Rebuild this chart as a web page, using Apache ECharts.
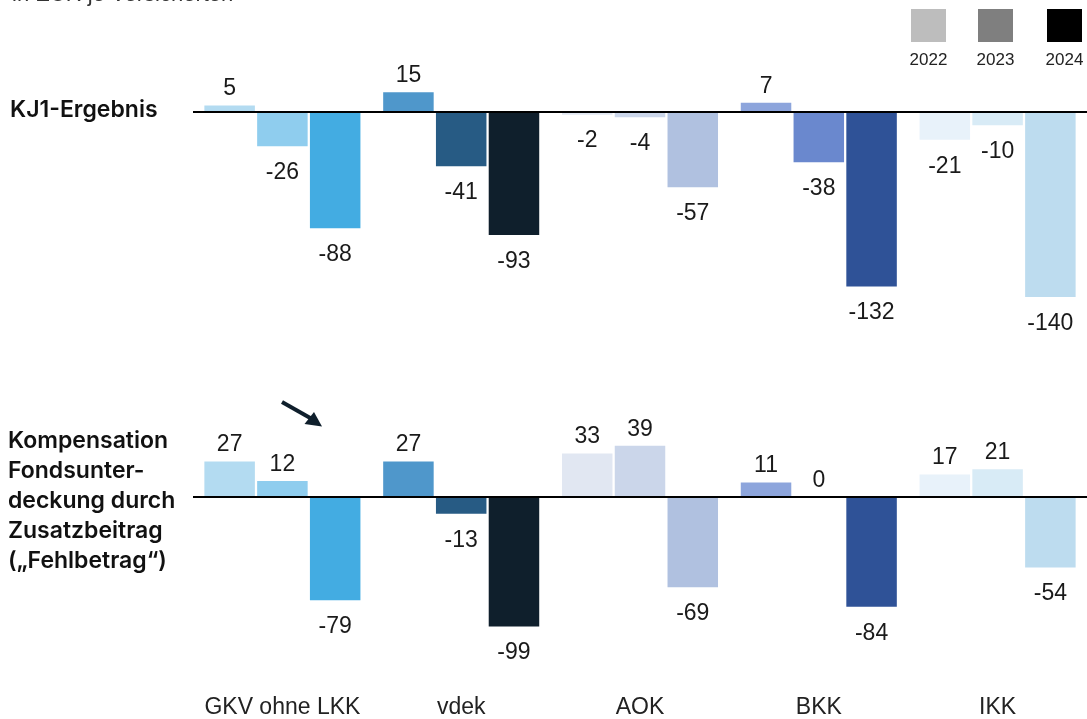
<!DOCTYPE html>
<html>
<head>
<meta charset="utf-8">
<script src="https://cdn.jsdelivr.net/npm/echarts@6/dist/echarts.min.js"></script>
<style>
  html, body { margin: 0; padding: 0; background: #fff; }
  #chart { width: 1087px; height: 719px; }
</style>
</head>
<body>
<div id="chart"></div>
<script>
const categories = ['GKV ohne LKK', 'vdek', 'AOK', 'BKK', 'IKK'];
const years = ['2022', '2023', '2024'];
const legendColors = ['#bdbdbd', '#7f7f7f', '#000000'];

// KJ1-Ergebnis, in EUR je Versicherten
const kj1_2022 = [5, 15, -2, 7, -21];
const kj1_2023 = [-26, -41, -4, -38, -10];
const kj1_2024 = [-88, -93, -57, -132, -140];

// Kompensation Fondsunterdeckung durch Zusatzbeitrag ("Fehlbetrag")
const fehl_2022 = [27, 27, 33, 11, 17];
const fehl_2023 = [12, -13, 39, 0, 21];
const fehl_2024 = [-79, -99, -69, -84, -54];

// Farbe je Kassenart und Jahr (2022, 2023, 2024)
const groupColors = [
  ['#b3dbf1', '#8fcdee', '#43ace2'],
  ['#4f97cb', '#275b84', '#0f1f2c'],
  ['#e1e7f2', '#cbd6ea', '#b0c1e0'],
  ['#8da5dc', '#6a88ce', '#2f5297'],
  ['#e8f2fa', '#d8ebf6', '#bddcef']
];

const labelFont = {
  fontFamily: 'Liberation Sans',
  fontSize: 23,
  color: '#1a1a1a'
};

function toData(values, yearIdx) {
  return values.map(function (v, i) {
    return {
      value: v,
      itemStyle: { color: groupColors[i][yearIdx] },
      label: {
        position: v >= 0 ? 'top' : 'bottom',
        distance: v >= 0 ? 5 : 15
      }
    };
  });
}

function makeSeries(values, yearIdx, axisIdx) {
  const s = {
    name: years[yearIdx],
    type: 'bar',
    xAxisIndex: axisIdx,
    yAxisIndex: axisIdx,
    barWidth: 50.5,
    barGap: '4.5%',
    data: toData(values, yearIdx),
    label: Object.assign({ show: true }, labelFont),
    emphasis: { disabled: true }
  };
  if (yearIdx === 0) {
    s.markLine = {
      silent: true,
      symbol: 'none',
      label: { show: false },
      lineStyle: { color: '#000', width: 2, type: 'solid' },
      data: [{ yAxis: 0 }]
    };
  }
  return s;
}

const k = 1.322; // px per EUR
const chart = echarts.init(document.getElementById('chart'));

const legendGraphics = [];
const legendX = [911, 978, 1047];
years.forEach(function (y, i) {
  legendGraphics.push({
    type: 'rect',
    shape: { x: legendX[i], y: 9, width: 35, height: 33 },
    style: { fill: legendColors[i] }
  });
  legendGraphics.push({
    type: 'text',
    x: legendX[i] + 17.5,
    y: 60,
    style: {
      text: y, fontFamily: 'Liberation Sans', fontSize: 17, fill: '#222',
      align: 'center', verticalAlign: 'middle'
    }
  });
});

const option = {
  animation: false,
  backgroundColor: '#fff',
  grid: [
    { left: 193, width: 897, top: 112 - 40 * k, height: 200 * k },
    { left: 193, width: 897, top: 497.3 - 40 * k, height: 160 * k }
  ],
  xAxis: [
    {
      type: 'category', gridIndex: 0, data: categories,
      axisLine: { show: false }, axisTick: { show: false }, axisLabel: { show: false }
    },
    {
      type: 'category', gridIndex: 1, data: categories,
      axisLine: { show: false }, axisTick: { show: false },
      axisLabel: {
        interval: 0, margin: 42, fontFamily: 'Liberation Sans', fontSize: 23, color: '#222'
      }
    }
  ],
  yAxis: [
    { type: 'value', gridIndex: 0, min: -160, max: 40, show: false },
    { type: 'value', gridIndex: 1, min: -120, max: 40, show: false }
  ],
  series: [
    makeSeries(kj1_2022, 0, 0),
    makeSeries(kj1_2023, 1, 0),
    makeSeries(kj1_2024, 2, 0),
    makeSeries(fehl_2022, 0, 1),
    makeSeries(fehl_2023, 1, 1),
    makeSeries(fehl_2024, 2, 1)
  ],
  graphic: [
    {
      type: 'text', x: 12, y: -5,
      style: {
        text: 'in EUR je Versicherten', fontFamily: 'Liberation Sans',
        fontSize: 22, fill: '#333', verticalAlign: 'middle'
      }
    },
    {
      type: 'text', x: 10, y: 110,
      style: {
        text: 'KJ1-Ergebnis', fontFamily: 'Inter', fontWeight: 600,
        fontSize: 23, fill: '#111', verticalAlign: 'middle'
      }
    },
    {
      type: 'text', x: 8, y: 426,
      style: {
        text: 'Kompensation\nFondsunter-\ndeckung durch\nZusatzbeitrag\n(\u201EFehlbetrag\u201C)',
        fontFamily: 'Inter', fontWeight: 600, fontSize: 23, lineHeight: 30,
        fill: '#111', verticalAlign: 'top'
      }
    },
    // Pfeil
    {
      type: 'line',
      shape: { x1: 282, y1: 402, x2: 312, y2: 419 },
      style: { stroke: '#0f1f2c', lineWidth: 4 }
    },
    {
      type: 'polygon',
      shape: { points: [[322, 426.5], [304.5, 424], [314, 412]] },
      style: { fill: '#0f1f2c' }
    }
  ].concat(legendGraphics)
};

chart.setOption(option);
</script>
</body>
</html>
